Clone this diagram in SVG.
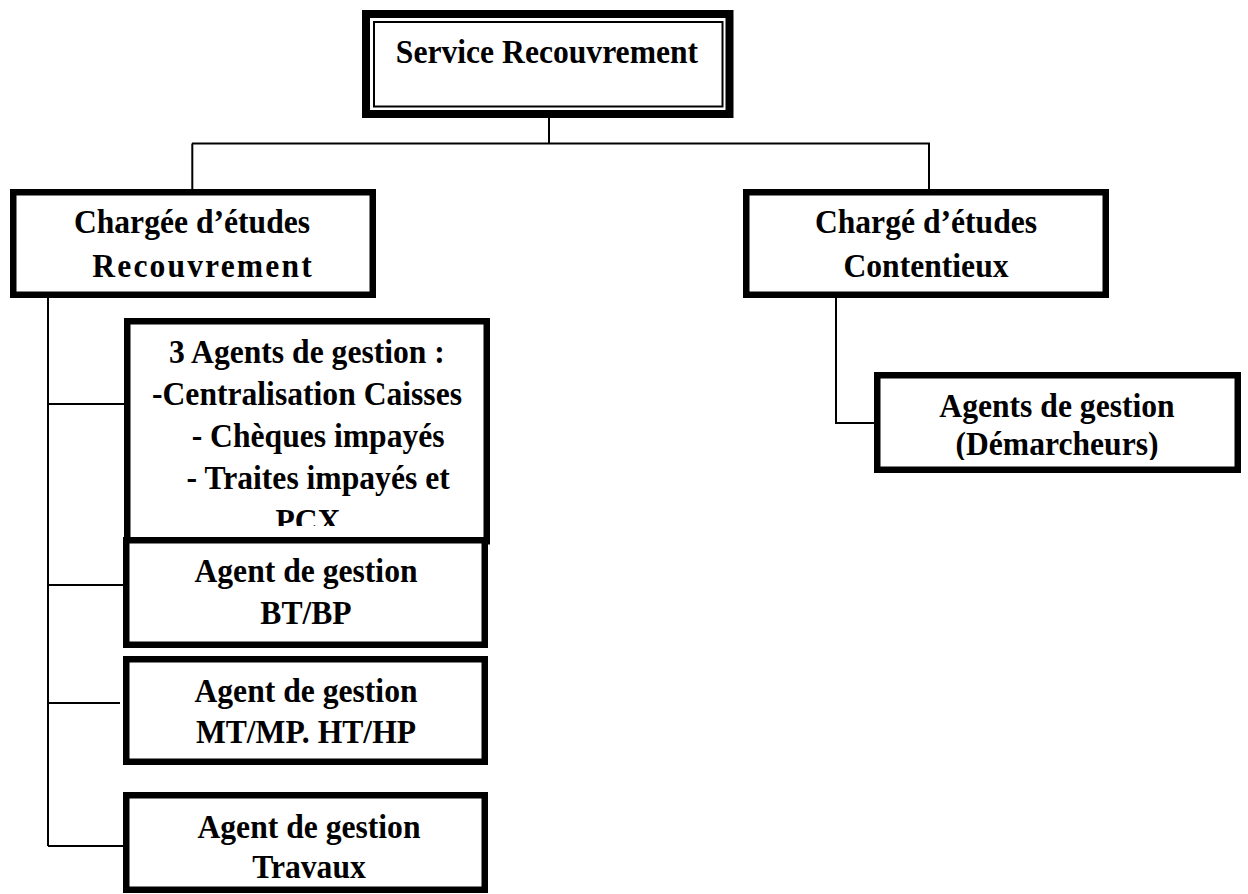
<svg xmlns="http://www.w3.org/2000/svg" width="1248" height="894" viewBox="0 0 1248 894">
  <style>
    .box { fill: #ffffff; stroke: #000000; stroke-width: 6.5; }
    .outer { fill: #ffffff; stroke: #000000; stroke-width: 8; }
    .inner { fill: none; stroke: #000000; stroke-width: 2; }
    .link { fill: none; stroke: #000000; stroke-width: 2; }
    text { font-family: "Liberation Serif", "Times New Roman", serif; font-weight: bold; font-size: 34px; fill: #000000; text-anchor: middle; }
  </style>
  <defs>
    <clipPath id="clip-agents3"><rect x="131" y="325" width="352" height="201"/></clipPath>
    <clipPath id="clip-demarch"><rect x="881" y="379" width="353" height="81"/></clipPath>
  </defs>
  <rect width="1248" height="894" fill="#ffffff"/>

  <!-- connectors -->
  <g id="connectors">
    <path class="link" d="M549 118 V143.5 M192 143.5 H930 M192.3 143.5 V190 M929 143.5 V190"/>
    <path class="link" d="M48 298 V846 M48 404 H125 M48 585 H124 M48 703 H120 M48 846 H124"/>
    <path class="link" d="M836 298 V423 H875"/>
  </g>

  <!-- head of service; labels use a slightly narrowed face (x scale 0.93 about the box centre) -->
  <g id="service-recouvrement">
    <rect class="outer" x="366" y="14" width="363.5" height="100"/>
    <rect class="inner" x="374" y="22" width="348.5" height="84.5"/>
    <g transform="matrix(0.93 0 0 1 38.29 0)">
      <text x="547" y="63">Service Recouvrement</text>
    </g>
  </g>

  <g id="chargee-recouvrement">
    <rect class="box" x="13.25" y="192.25" width="359.5" height="102.5"/>
    <g transform="matrix(0.93 0 0 1 13.44 0)">
      <text x="192" y="233">Chargée d’études</text>
      <text x="202.75" y="277" textLength="236" lengthAdjust="spacing">Recouvrement</text>
    </g>
  </g>

  <g id="charge-contentieux">
    <rect class="box" x="746.25" y="192.25" width="359.5" height="102.5"/>
    <g transform="matrix(0.93 0 0 1 64.82 0)">
      <text x="926" y="233">Chargé d’études</text>
      <text x="926" y="277">Contentieux</text>
    </g>
  </g>

  <g id="agents-demarcheurs">
    <rect class="box" x="877.25" y="375.25" width="360.5" height="94.5"/>
    <g clip-path="url(#clip-demarch)">
      <g transform="matrix(0.93 0 0 1 73.99 0)">
        <text x="1057" y="417">Agents de gestion</text>
        <text x="1057" y="455">(Démarcheurs)</text>
      </g>
    </g>
  </g>

  <g id="agents-gestion-3">
    <rect class="box" x="127.25" y="321.25" width="359.5" height="220"/>
    <g clip-path="url(#clip-agents3)">
      <g transform="matrix(0.93 0 0 1 21.49 0)">
        <text x="307" y="363">3 Agents de gestion :</text>
        <text x="307" y="405">-Centralisation Caisses</text>
        <text x="319" y="447">- Chèques impayés</text>
        <text x="319" y="489">- Traites impayés et</text>
        <text x="308" y="532">PCX</text>
      </g>
    </g>
  </g>

  <g id="agent-bt-bp">
    <rect class="box" x="126.25" y="540.25" width="358.5" height="104.5"/>
    <g transform="matrix(0.93 0 0 1 21.42 0)">
      <text x="306" y="582">Agent de gestion</text>
      <text x="306" y="624">BT/BP</text>
    </g>
  </g>

  <g id="agent-mt-ht">
    <rect class="box" x="126.25" y="659.25" width="358.5" height="102.5"/>
    <g transform="matrix(0.93 0 0 1 21.42 0)">
      <text x="306" y="702">Agent de gestion</text>
      <text x="306" y="743">MT/MP. HT/HP</text>
    </g>
  </g>

  <g id="agent-travaux">
    <rect class="box" x="126.25" y="795.25" width="358.5" height="94.5"/>
    <g transform="matrix(0.93 0 0 1 21.63 0)">
      <text x="309" y="838">Agent de gestion</text>
      <text x="309" y="878">Travaux</text>
    </g>
  </g>
</svg>
